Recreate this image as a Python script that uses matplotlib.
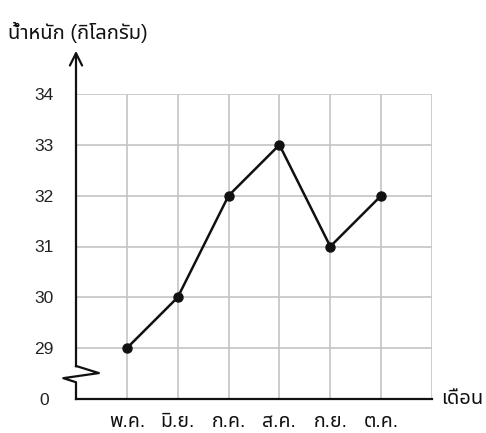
import matplotlib
matplotlib.use("Agg")
from matplotlib import pyplot as plt

plt.rcParams['font.family'] = ['Liberation Sans', 'Noto Sans Thai', 'DejaVu Sans']

months = ['พ.ค.', 'มิ.ย.', 'ก.ค.', 'ส.ค.', 'ก.ย.', 'ต.ค.']
weights = [29, 30, 32, 33, 31, 32]
ytick_values = [29, 30, 31, 32, 33, 34]
ylabel = 'น้ำหนัก (กิโลกรัม)'
xlabel = 'เดือน'

base = 28  # where the "0" sits after the axis break
xs = list(range(1, len(months) + 1))
xmax = len(months) + 1
ymax = ytick_values[-1]

fig = plt.figure(figsize=(4.86, 4.33), dpi=100)
ax = fig.add_axes([76 / 486, 34 / 433, 356 / 486, 305 / 433])
ax.set_xlim(0, xmax)
ax.set_ylim(base, ymax)
for s in ax.spines.values():
    s.set_visible(False)

# grid
grid_kw = dict(color='#c4c4c4', lw=1.2, zorder=1)
for x in range(1, xmax + 1):
    ax.plot([x, x], [base, ymax], **grid_kw)
for y in ytick_values:
    ax.plot([0, xmax], [y, y], **grid_kw)

# axes with break and arrow
ax.plot([0, xmax], [base, base], color='#111111', lw=1.6, zorder=3, clip_on=False)
zz_x = [0, 0, 0.45, -0.25, 0, 0]
zz_y = [28.65, 28.65, 28.51, 28.41, 28.33, base]
ax.plot(zz_x, zz_y, color='#111111', lw=1.6, zorder=3, clip_on=False)
ax.annotate('', xy=(0, 34.85), xytext=(0, 28.64),
            arrowprops=dict(arrowstyle='->', color='#111111', lw=1.6,
                            mutation_scale=22, shrinkA=0, shrinkB=0),
            annotation_clip=False, zorder=3)

# data
ax.plot(xs, weights, color='#111111', lw=1.8, marker='o', ms=6.5, zorder=4)

ax.set_yticks([base] + ytick_values)
ax.set_yticklabels(['0'] + [str(v) for v in ytick_values], fontsize=12.5, color='#222222')
for t in ax.get_yticklabels():
    t.set_ha('center')
ax.tick_params(axis='y', length=0, pad=23)
ax.set_xticks(xs)
ax.set_xticklabels(months, fontsize=14, color='#111111')
ax.tick_params(axis='x', length=0, pad=11)

fig.text(8 / 486, 1 - 32 / 433, ylabel, fontsize=14.5, color='#111111', va='center', ha='left')
ax.text(xmax + 0.18, base, xlabel, fontsize=14.5, color='#111111', va='center', ha='left')

fig.savefig("out.png")
